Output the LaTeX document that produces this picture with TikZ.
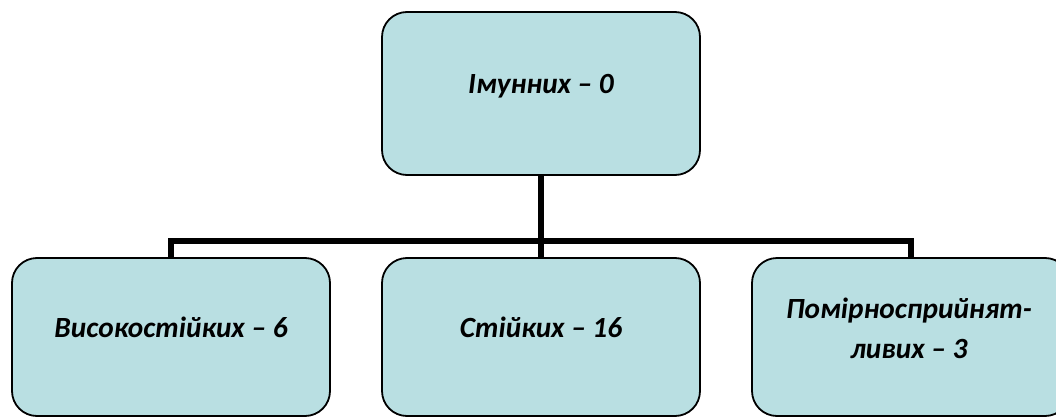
\documentclass[tikz,border=0pt]{standalone}
\usepackage{fontspec}
\setmainfont{Carlito}
\definecolor{boxfill}{RGB}{185,223,226}
\begin{document}
\begin{tikzpicture}[x=1pt,y=-1pt,
  box/.style={draw=black, line width=1.8pt, fill=boxfill, rounded corners=25pt,
    minimum width=318pt, inner sep=0pt},
  lbl/.style={font=\fontsize{29.3}{40}\selectfont\bfseries\itshape, align=center, inner sep=0pt, anchor=base},
  conn/.style={line width=6.5pt, line join=miter}]
\useasboundingbox (0,0) rectangle (1056,417);
\clip (0,0) rectangle (1056,417);
\coordinate (bus) at (541,241);
\node[box, minimum height=163pt] (top) at (541,93.5) {};
\node[box, minimum height=158pt] (b1) at (171,337) {};
\node[box, minimum height=158pt] (b2) at (541,337) {};
\node[box, minimum height=158pt] (b3) at (911,337) {};
\draw[conn] (top.south) -- (b2.north);
\draw[conn] (b1.north) |- (bus) -| (b3.north);
\node[lbl] (t0) at (top.center) {Імунних – 0};
\node[lbl] (t1) at (b1.center) {Високостійких – 6};
\node[lbl] (t2) at (b2.center) {Стійких – 16};
\node[lbl] (t3) at ([xshift=-2pt,yshift=-21pt]b3.center) {Помірносприйнят-\\ливих – 3};
\end{tikzpicture}
\end{document}
